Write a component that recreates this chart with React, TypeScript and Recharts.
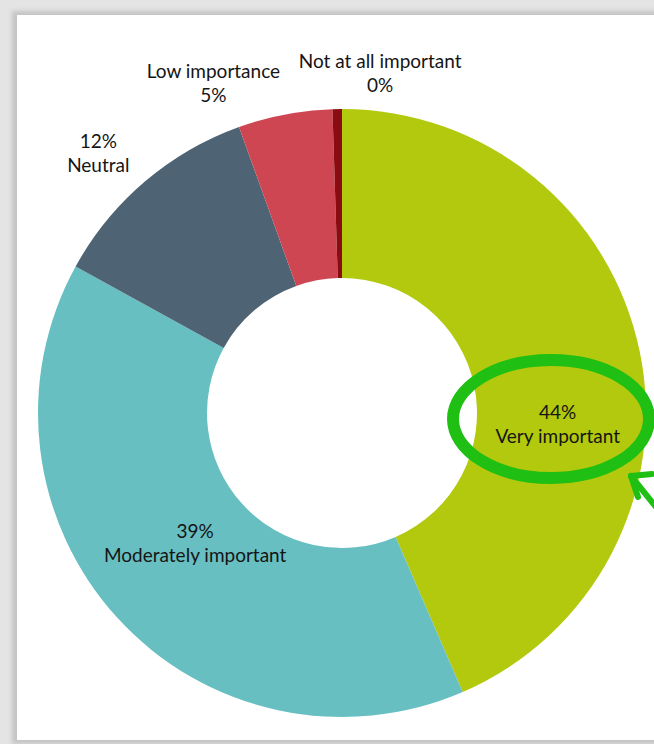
import React from "react";
import { PieChart, Pie, Cell } from "recharts";

const categories = [
  "Very important",
  "Moderately important",
  "Neutral",
  "Low importance",
  "Not at all important",
];
const shares = [43.5, 39.5, 11.5, 5, 0.5];
const shareLabels = ["44%", "39%", "12%", "5%", "0%"];
const colors = ["#b2c90e", "#67bfc1", "#4e6373", "#cf4653", "#8a0b10"];

const data = categories.map((name, i) => ({
  name,
  value: shares[i],
  label: shareLabels[i],
}));

// where each label block sits: angle clockwise from 12 o'clock, distance from centre
const labelSpots = [
  { angle: 92.9, r: 216, percentFirst: true },
  { angle: 228.5, r: 196, percentFirst: true },
  { angle: 316.8, r: 356, percentFirst: true },
  { angle: 338.7, r: 354, percentFirst: false },
  { angle: 6.4, r: 342, percentFirst: false },
];

const FONT = "Lato, 'Open Sans', sans-serif";

function renderLabel(props: any) {
  const { cx, cy, index, payload } = props;
  const spot = labelSpots[index];
  const rad = (spot.angle * Math.PI) / 180;
  const x = cx + spot.r * Math.sin(rad);
  const y = cy - spot.r * Math.cos(rad);
  const lines = spot.percentFirst
    ? [payload.label, payload.name]
    : [payload.name, payload.label];
  return (
    <text
      x={x}
      y={y}
      textAnchor="middle"
      fontFamily={FONT}
      fontSize={19}
      fill="#151515"
    >
      <tspan x={x} dy={-5}>
        {lines[0]}
      </tspan>
      <tspan x={x} dy={24}>
        {lines[1]}
      </tspan>
    </text>
  );
}

export default function App() {
  return (
    <div
      style={{
        position: "absolute",
        left: 0,
        top: 0,
        width: 654,
        height: 744,
        overflow: "hidden",
        background: "#e4e4e4",
      }}
    >
      <div
        style={{
          position: "absolute",
          left: 12,
          top: 11,
          width: 700,
          height: 733,
          background: "#c4c4c4",
          filter: "blur(2px)",
        }}
      />
      <div
        style={{
          position: "absolute",
          left: 17,
          top: 15,
          width: 700,
          height: 725,
          background: "#ffffff",
        }}
      />
      <div style={{ position: "absolute", left: 0, top: 0 }}>
        <PieChart
          width={654}
          height={744}
          margin={{ top: 0, right: 0, bottom: 0, left: 0 }}
        >
          <Pie
            data={data}
            dataKey="value"
            nameKey="name"
            cx={342}
            cy={413}
            innerRadius={135}
            outerRadius={304}
            startAngle={90}
            endAngle={-270}
            stroke="none"
            label={renderLabel}
            labelLine={false}
            isAnimationActive={false}
          >
            {data.map((d, i) => (
              <Cell key={d.name} fill={colors[i]} />
            ))}
          </Pie>
        </PieChart>
      </div>
      <svg
        width={654}
        height={744}
        style={{ position: "absolute", left: 0, top: 0, pointerEvents: "none" }}
      >
        <ellipse
          cx={551}
          cy={419}
          rx={98}
          ry={59}
          fill="none"
          stroke="#1fbf14"
          strokeWidth={12}
        />
        <g stroke="#1fbf14" strokeWidth={6} strokeLinecap="round" fill="none">
          <line x1={631} y1={476} x2={660} y2={512} />
          <line x1={631} y1={476} x2={652} y2={474} />
          <line x1={631} y1={476} x2={638} y2={497} />
        </g>
      </svg>
    </div>
  );
}
